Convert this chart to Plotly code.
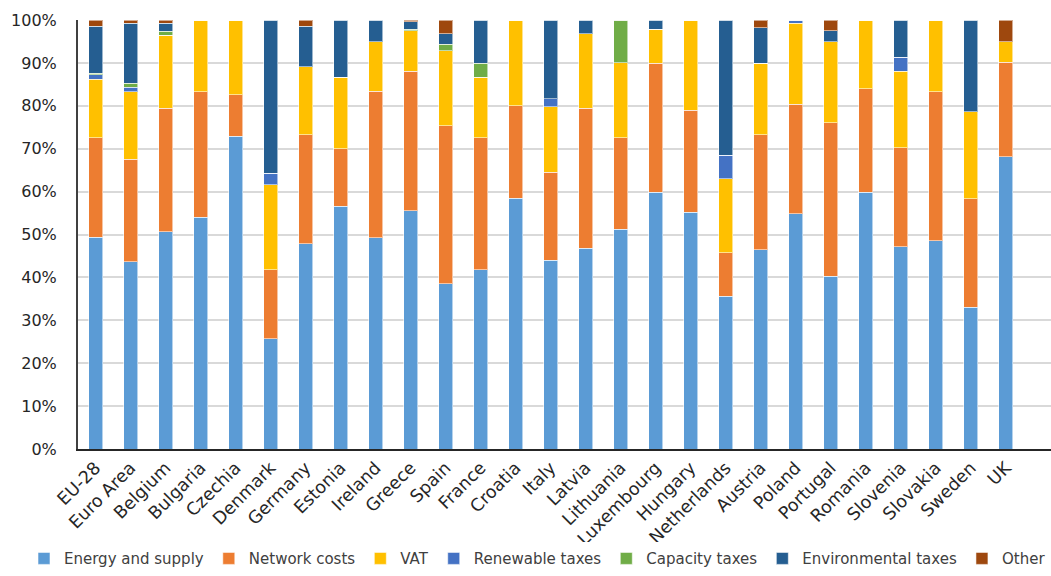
import plotly.graph_objects as go

countries = ["EU-28", "Euro Area", "Belgium", "Bulgaria", "Czechia", "Denmark", "Germany",
             "Estonia", "Ireland", "Greece", "Spain", "France", "Croatia", "Italy", "Latvia",
             "Lithuania", "Luxembourg", "Hungary", "Netherlands", "Austria", "Poland",
             "Portugal", "Romania", "Slovenia", "Slovakia", "Sweden", "UK"]

energy_supply = [49.4, 43.6, 50.7, 54.0, 72.9, 25.7, 47.9, 56.6, 49.3, 55.5, 38.5, 41.8, 58.4, 44.0,
                 46.8, 51.2, 59.8, 55.2, 35.6, 46.5, 54.8, 40.3, 59.8, 47.2, 48.6, 33.0, 68.1]
network_costs = [23.2, 24.0, 28.7, 29.3, 9.7, 16.1, 25.4, 13.4, 34.1, 32.5, 36.9, 30.7, 21.6, 20.5,
                 32.6, 21.4, 30.1, 23.8, 10.2, 26.7, 25.6, 35.8, 24.2, 23.0, 34.7, 25.3, 22.1]
vat = [13.6, 15.7, 17.0, 16.7, 17.4, 19.8, 15.8, 16.6, 11.5, 9.5, 17.4, 14.2, 20.0, 15.3,
       17.4, 17.4, 8.0, 21.0, 17.2, 16.7, 18.9, 18.8, 16.0, 17.9, 16.7, 20.3, 4.7]
renewable_taxes = [1.0, 1.0, 0, 0, 0, 2.7, 0, 0, 0, 0, 0, 0, 0, 1.8,
                   0, 0, 0, 0, 5.5, 0, 0.7, 0, 0, 3.2, 0, 0, 0]
capacity_taxes = [0.4, 1.0, 1.0, 0, 0, 0, 0, 0, 0, 0.4, 1.5, 3.2, 0, 0,
                  0, 10.0, 0, 0, 0, 0, 0, 0, 0, 0, 0, 0, 0]
environmental_taxes = [10.9, 13.9, 1.8, 0, 0, 35.7, 9.4, 13.4, 5.1, 1.7, 2.5, 10.1, 0, 18.4,
                       3.2, 0, 2.1, 0, 31.5, 8.3, 0, 2.6, 0, 8.7, 0, 21.4, 0]
other = [1.5, 0.8, 0.8, 0, 0, 0, 1.5, 0, 0, 0.4, 3.2, 0, 0, 0,
         0, 0, 0, 0, 0, 1.8, 0, 2.5, 0, 0, 0, 0, 5.1]

series = [
    ("Energy and supply", energy_supply, "#5B9BD5"),
    ("Network costs", network_costs, "#ED7D31"),
    ("VAT", vat, "#FFC000"),
    ("Renewable taxes", renewable_taxes, "#4472C4"),
    ("Capacity taxes", capacity_taxes, "#70AD47"),
    ("Environmental taxes", environmental_taxes, "#255E91"),
    ("Other", other, "#9E480E"),
]

fig = go.Figure()
for name, vals, color in series:
    fig.add_trace(go.Bar(
        x=countries, y=vals, name=name, width=0.4,
        marker=dict(color=color, line=dict(color="rgba(255,255,255,0.55)", width=1)),
    ))

font_family = "DejaVu Sans"
fig.update_layout(
    barmode="stack",
    width=1051, height=576,
    margin=dict(l=78, r=0, t=20, b=127),
    plot_bgcolor="white", paper_bgcolor="white",
    font=dict(family=font_family, size=16, color="#404040"),
    showlegend=True,
    legend=dict(orientation="h", x=-0.05, xanchor="left", y=-0.294, yanchor="bottom",
                font=dict(size=15, color="#404040"), itemwidth=30,
                traceorder="normal", tracegroupgap=0),
    bargap=0.6,
)
fig.update_xaxes(
    range=[-0.5, 27.29],
    tickangle=-45, tickfont=dict(size=17.5, color="#262626"),
    showline=True, linecolor="#262626", linewidth=1.5,
    showgrid=False, ticks="", automargin=False,
)
fig.update_yaxes(
    range=[0, 100], dtick=10, ticksuffix="%",
    tickfont=dict(size=16, color="#262626"),
    showgrid=True, gridcolor="#D9D9D9", gridwidth=2,
    showline=True, linecolor="#404040", linewidth=2,
    ticks="", ticklabelstandoff=16, zeroline=False, automargin=False,
)

fig.write_html("out.html")
